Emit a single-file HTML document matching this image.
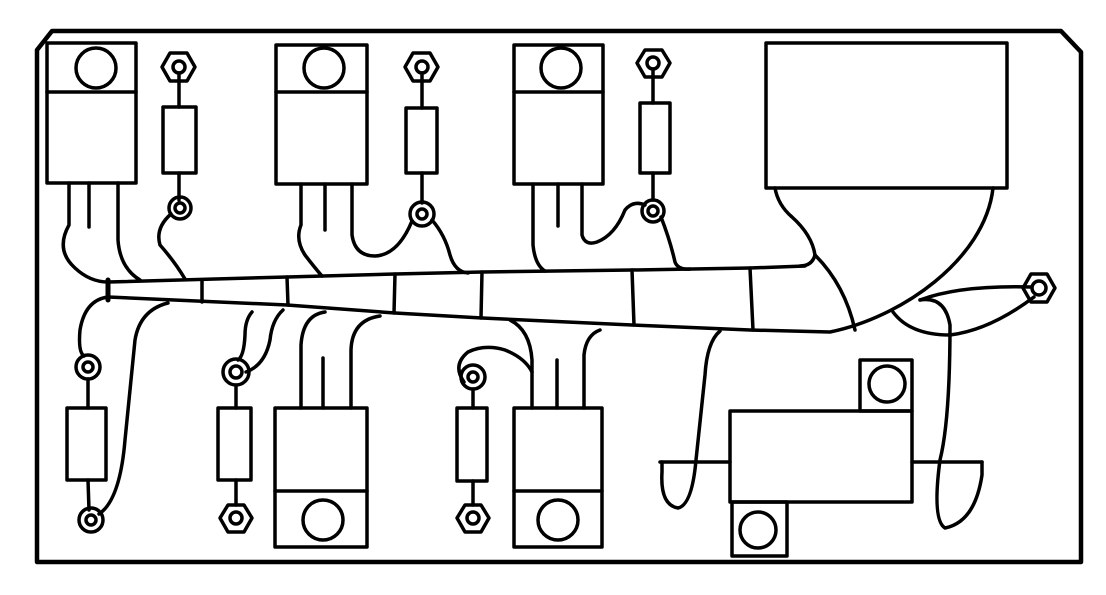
<!DOCTYPE html>
<html><head><meta charset="utf-8"><style>html,body{margin:0;padding:0;background:#fff}svg{display:block}</style></head>
<body>
<svg width="1106" height="595" viewBox="0 0 1106 595" xmlns="http://www.w3.org/2000/svg" fill="none" stroke="#000" stroke-width="3.5" stroke-linejoin="round" stroke-linecap="round">
<path d="M52,31 L1061,31 L1081,52 L1081,562 L37,562 L37,50 Z" stroke-width="4.5"/>
<rect x="47" y="43" width="89" height="140"/><line x1="47" y1="92" x2="136" y2="92"/><circle cx="96" cy="68" r="20"/>
<rect x="276" y="45" width="91" height="139"/><line x1="276" y1="92" x2="367" y2="92"/><circle cx="324" cy="68" r="20"/>
<rect x="514" y="45" width="89" height="139"/><line x1="514" y1="92" x2="603" y2="92"/><circle cx="561" cy="68" r="20"/>
<line x1="89" y1="183" x2="89" y2="227"/>
<line x1="325" y1="184" x2="325" y2="230"/>
<line x1="558" y1="184" x2="558" y2="226"/>
<g>
<polygon points="170,53 187,53 195,67 187,81 170,81 162,67"/><circle cx="179" cy="67" r="6"/>
<line x1="179" y1="73" x2="179" y2="107"/><rect x="163" y="107" width="33" height="66"/><line x1="179" y1="173" x2="179" y2="200"/>
<circle cx="180" cy="208" r="11"/><circle cx="180" cy="208" r="5"/>
</g>
<g>
<polygon points="413,53 430,53 438,67 430,81 413,81 405,67"/><circle cx="422" cy="67" r="6"/>
<line x1="422" y1="73" x2="422" y2="108"/><rect x="406" y="108" width="31" height="65"/><line x1="422" y1="173" x2="422" y2="203"/>
<circle cx="422" cy="214" r="12"/><circle cx="422" cy="214" r="5"/>
</g>
<g>
<polygon points="645,50 662,50 670,63 662,77 645,77 637,63"/><circle cx="653" cy="63" r="6"/>
<line x1="653" y1="69" x2="653" y2="103"/><rect x="640" y="103" width="30" height="70"/><line x1="653" y1="173" x2="653" y2="200"/>
<circle cx="653" cy="211" r="11"/><circle cx="653" cy="211" r="5"/>
</g>
<rect x="766" y="43" width="241" height="145"/>
<path d="M108,282 L287,277 L395,274 L482,272 L632,270 L750,268 L805,266"/>
<path d="M108,297 L287,305 L395,313 L482,318 L632,325 L750,330 L830,332 C900,318 985,260 993,188"/>
<line x1="108" y1="280" x2="108" y2="300" stroke-width="5"/>
<line x1="202" y1="280" x2="202" y2="302"/>
<line x1="287" y1="277" x2="288" y2="305"/>
<line x1="395" y1="274" x2="394" y2="313"/>
<line x1="482" y1="272" x2="481" y2="318"/>
<line x1="632" y1="270" x2="634" y2="325"/>
<line x1="750" y1="268" x2="753" y2="330"/>
<path d="M775,188 Q778,205 792,217 Q812,235 815,255 Q812,266 800,266"/>
<path d="M815,255 Q845,285 855,330"/>
<path d="M69,183 L69,225 Q55,250 75,268 Q90,282 108,282"/>
<path d="M118,183 L118,240 Q120,268 140,280"/>
<path d="M171,214 Q155,228 160,245 Q175,262 185,279"/>
<path d="M301,184 L301,225 Q295,240 305,255 Q315,268 322,276"/>
<path d="M352,184 L352,235 Q355,256 375,256 Q398,255 412,221"/>
<path d="M432,220 Q445,235 450,255 Q455,272 468,273"/>
<path d="M533,184 L533,245 Q535,265 545,271"/>
<path d="M582,184 L582,235 Q585,246 597,242 Q615,235 625,210 Q633,200 645,205"/>
<path d="M661,217 Q670,240 675,262 Q678,270 690,269"/>
<polygon points="1031,274 1047,274 1055,288 1047,302 1031,302 1023,288"/><circle cx="1039" cy="288" r="7"/>
<path d="M920,300 Q960,285 1031,287"/>
<path d="M893,312 Q910,335 950,335 Q990,330 1034,297"/>
<path d="M920,300 Q945,296 950,325 Q950,420 940,460 Q932,520 945,528 Q975,522 982,475 L982,462"/>
<path d="M720,331 Q707,342 705,375 L696,460 Q692,505 678,508 Q660,505 662,472 L662,462"/>
<line x1="660" y1="462" x2="730" y2="462"/><line x1="912" y1="462" x2="982" y2="462"/>
<rect x="730" y="411" width="182" height="91"/>
<rect x="860" y="360" width="52" height="51"/><circle cx="887" cy="384" r="18"/>
<rect x="732" y="502" width="55" height="54"/><circle cx="758" cy="530" r="18"/>
<rect x="275" y="408" width="92" height="139"/><line x1="275" y1="491" x2="367" y2="491"/><circle cx="323" cy="520" r="20"/>
<rect x="514" y="408" width="88" height="139"/><line x1="514" y1="491" x2="602" y2="491"/><circle cx="558" cy="520" r="20"/>
<line x1="323" y1="408" x2="323" y2="358"/>
<line x1="557" y1="408" x2="557" y2="360"/>
<path d="M301,408 L301,345 Q303,315 325,312"/>
<path d="M351,408 L351,350 Q352,320 380,316"/>
<path d="M532,408 L532,360 Q530,330 510,320"/>
<path d="M584,408 L584,355 Q586,335 600,330"/>
<g>
<circle cx="88" cy="367" r="12"/><circle cx="88" cy="367" r="5"/>
<line x1="88" y1="379" x2="88" y2="408"/><rect x="67" y="408" width="39" height="72"/><line x1="88" y1="480" x2="89" y2="510"/>
<circle cx="91" cy="520" r="12"/><circle cx="91" cy="520" r="5"/>
</g>
<g>
<circle cx="236" cy="372" r="13"/><circle cx="236" cy="372" r="6"/>
<line x1="236" y1="385" x2="236" y2="408"/><rect x="218" y="408" width="33" height="72"/><line x1="236" y1="480" x2="236" y2="505"/>
<polygon points="228,505 244,505 252,518 244,532 228,532 220,518"/><circle cx="236" cy="518" r="6"/>
</g>
<g>
<circle cx="473" cy="377" r="12"/><circle cx="473" cy="377" r="5"/>
<line x1="473" y1="389" x2="473" y2="408"/><rect x="457" y="408" width="30" height="73"/><line x1="473" y1="481" x2="473" y2="505"/>
<polygon points="465,505 481,505 489,518 481,532 465,532 457,518"/><circle cx="473" cy="518" r="6"/>
</g>
<path d="M108,297 Q85,300 80,330 Q78,352 84,356"/>
<path d="M168,303 Q140,310 135,340 L125,440 Q120,500 99,514"/>
<path d="M252,312 Q245,320 245,335 Q244,356 238,360"/>
<path d="M283,310 Q272,320 270,340 Q265,365 246,372"/>
<path d="M464,382 Q452,365 468,352 Q485,344 505,350 Q525,358 532,372"/>
</svg>
</body></html>
